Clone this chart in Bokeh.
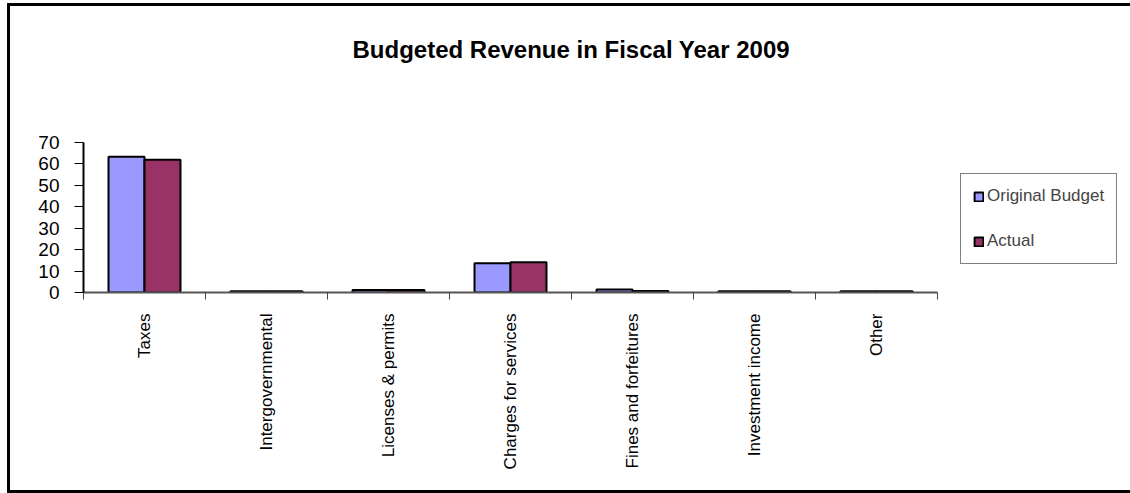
import math
from bokeh.plotting import figure
from bokeh.models import FixedTicker, Legend, LegendItem, Range1d, Title
from bokeh.embed import file_html
from bokeh.resources import INLINE

categories = ["Taxes", "Intergovernmental", "Licenses & permits", "Charges for services",
              "Fines and forfeitures", "Investment income", "Other"]
original_budget = [63.3, 0.6, 1.2, 13.6, 1.4, 0.6, 0.6]
actual = [61.9, 0.6, 1.2, 14.1, 0.7, 0.6, 0.6]
y_ticks = [0, 10, 20, 30, 40, 50, 60, 70]

FONT = "Liberation Sans"
n = len(categories)
centers = [i + 0.5 for i in range(n)]
bw = 0.295

p = figure(width=1120, height=484, output_backend="svg", toolbar_location=None, title=None,
           x_range=Range1d(0, n), y_range=Range1d(0, 70),
           min_border_left=73, min_border_right=193, min_border_top=136, min_border_bottom=198)
p.frame_width = 854
p.frame_height = 150
p.outline_line_color = None
p.xgrid.visible = False
p.ygrid.visible = False
p.background_fill_color = "white"
p.border_fill_color = "white"
p.styles = {"margin-left": "7px", "margin-top": "3px",
            "border-left": "3px solid black", "border-top": "3px solid black",
            "border-bottom": "3px solid black"}

r1 = p.vbar(x=[c - bw / 2 for c in centers], top=original_budget, width=bw,
            fill_color="#9999FF", line_color="black", line_width=2)
r2 = p.vbar(x=[c + bw / 2 for c in centers], top=actual, width=bw,
            fill_color="#993366", line_color="black", line_width=2)

# x axis: labels at centres, ticks at category boundaries
xa = p.xaxis[0]
xa.ticker = FixedTicker(ticks=centers, minor_ticks=list(range(n + 1)))
xa.major_label_overrides = {c: lab for c, lab in zip(centers, categories)}
xa.major_label_orientation = math.pi / 2
xa.major_tick_out = 0
xa.major_tick_in = 0
xa.minor_tick_out = 7
xa.minor_tick_in = 0
xa.minor_tick_line_color = "#444444"
xa.axis_line_color = "#555555"
xa.axis_line_width = 2
xa.major_label_text_font = FONT
xa.major_label_text_font_size = "17px"
xa.major_label_text_color = "black"
xa.major_label_standoff = 14

ya = p.yaxis[0]
ya.ticker = FixedTicker(ticks=y_ticks)
ya.minor_tick_line_color = None
ya.major_tick_out = 9
ya.major_tick_in = 0
ya.axis_line_color = "black"
ya.axis_line_width = 2
ya.major_tick_line_color = "black"
ya.major_label_text_font = FONT
ya.major_label_text_font_size = "19px"
ya.major_label_text_color = "black"
ya.major_label_standoff = 15

# spacer title next to the frame, real title above it
p.add_layout(Title(text=" ", text_font_size="10px", standoff=62), "above")
p.add_layout(Title(text="Budgeted Revenue in Fiscal Year 2009", align="left",
                   text_font=FONT, text_font_size="24px", text_font_style="bold",
                   text_color="black", standoff=10, offset=269), "above")

legend = Legend(items=[LegendItem(label="Original Budget", renderers=[r1]),
                       LegendItem(label="Actual", renderers=[r2])],
                location=(23, 28), orientation="vertical",
                border_line_color="black", border_line_width=1,
                label_text_font=FONT, label_text_font_size="17px",
                glyph_width=11, glyph_height=11, label_standoff=3,
                label_height=20, spacing=25, padding=12, margin=0,
                background_fill_color="white")
p.add_layout(legend, "right")

open("out.html", "w").write(file_html(p, INLINE))
